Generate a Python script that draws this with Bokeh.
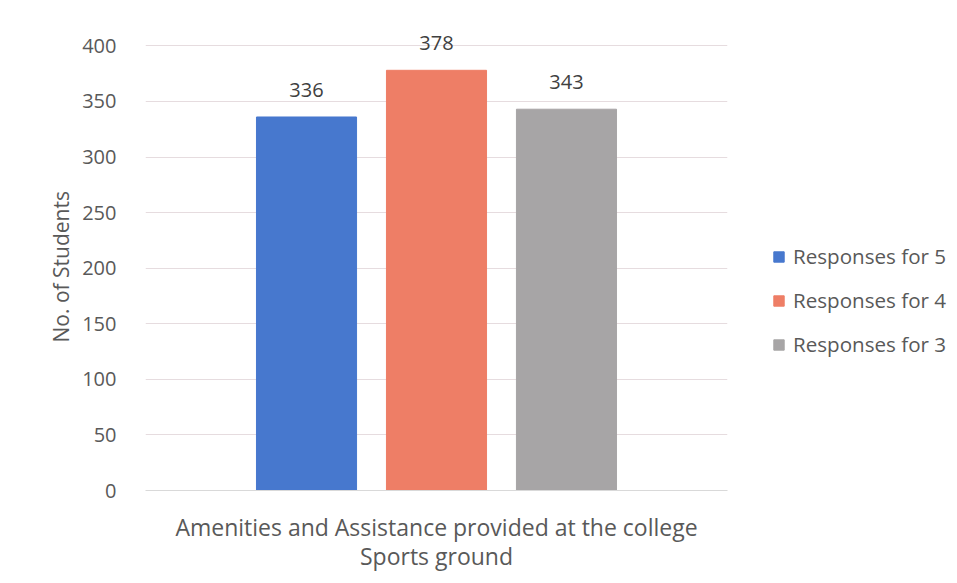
from bokeh.plotting import figure
from bokeh.layouts import row
from bokeh.models import (ColumnDataSource, FactorRange, LabelSet, Legend, LegendItem,
                          SingleIntervalTicker, Title)
from bokeh.core.properties import value
from bokeh.embed import file_html
from bokeh.resources import INLINE

category = "Amenities and Assistance provided at the college\nSports ground"
y_title = "No. of Students"
series = ["Responses for 5", "Responses for 4", "Responses for 3"]
values = [336, 378, 343]
colors = ["#4778CE", "#EE7E66", "#A7A5A6"]
y_ticks_step = 50

FONT = "Open Sans"
TXT = "#595959"

src = ColumnDataSource(dict(series=series, values=values, colors=colors,
                            labels=[str(v) for v in values]))

H = 578
W_MAIN = 740
W_LEG = 210

p = figure(width=W_MAIN, height=H, output_backend="svg", toolbar_location=None,
           x_range=FactorRange(*series, range_padding=0.4925),
           y_range=(0, 430))
p.min_border_left = 145
p.min_border_right = W_MAIN - 727
p.min_border_top = 12
p.min_border_bottom = H - 490
p.outline_line_color = None
p.background_fill_color = "white"
p.border_fill_color = "white"

r = p.vbar(x="series", top="values", width=0.77, color="colors", source=src)

labels = LabelSet(x="series", y="values", text="labels", source=src,
                  text_align="center", text_baseline="middle", y_offset=27,
                  text_font=value(FONT), text_font_size="20px", text_color="#404040")
p.add_layout(labels)

p.yaxis.ticker = SingleIntervalTicker(interval=y_ticks_step)
p.yaxis.axis_line_color = None
p.yaxis.major_tick_line_color = None
p.yaxis.minor_tick_line_color = None
p.yaxis.major_label_text_font = FONT
p.yaxis.major_label_text_font_size = "20px"
p.yaxis.major_label_text_color = TXT
p.yaxis.major_label_standoff = 23

ytitle = Title(text=y_title, align="left", offset=148, standoff=9,
               text_font=FONT, text_font_size="21px", text_font_style="normal",
               text_color=TXT)
p.add_layout(ytitle, "left")

p.xaxis.axis_line_color = "#D9D9D9"
p.xaxis.major_tick_line_color = None
p.xaxis.minor_tick_line_color = None
p.xaxis.major_label_text_font_size = "0px"
p.xaxis.major_label_standoff = 0
p.xaxis.axis_label = category
p.xaxis.axis_label_text_font = FONT
p.xaxis.axis_label_text_font_size = "23px"
p.xaxis.axis_label_text_font_style = "normal"
p.xaxis.axis_label_text_line_height = 0.92
p.xaxis.axis_label_text_color = TXT
p.xaxis.axis_label_standoff = 14

p.xgrid.grid_line_color = None
p.ygrid.grid_line_color = "#E6DCDF"

# legend panel: separate figure on the right whose bar renderer is hidden
q = figure(width=W_LEG, height=H, output_backend="svg", toolbar_location=None,
           x_range=FactorRange(*series), y_range=(0, 430))
q.min_border_left = 0
q.min_border_right = 0
q.min_border_top = 12
q.min_border_bottom = H - 490
q.axis.visible = False
q.grid.visible = False
q.outline_line_color = None
q.border_fill_color = "white"
rq = q.vbar(x="series", top="values", width=0.77, color="colors", source=src, visible=False)

items = [LegendItem(label=s, renderers=[rq], index=i) for i, s in enumerate(series)]
legend = Legend(items=items, location=(32, 132), orientation="vertical",
                border_line_color=None, background_fill_alpha=0,
                inactive_fill_alpha=0,
                glyph_width=13, glyph_height=13, label_height=22,
                spacing=16, padding=0, margin=0, label_standoff=8,
                label_text_font=FONT, label_text_font_size="20.6px",
                label_text_color=TXT)
q.add_layout(legend)

layout = row(p, q, spacing=0)
open("out.html", "w").write(file_html(layout, INLINE))
